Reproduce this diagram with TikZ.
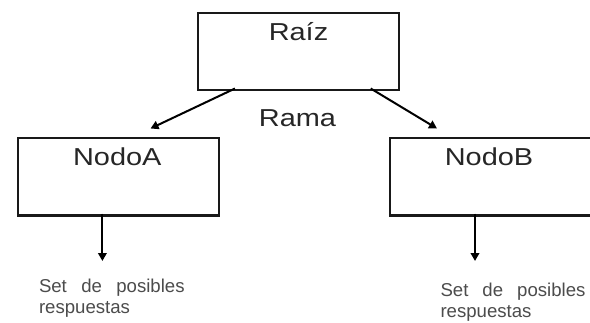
\documentclass[tikz,border=0pt]{standalone}
\usepackage{fontspec}
\setmainfont{Liberation Sans}
\newfontfamily\widefont[FakeStretch=1.18]{Liberation Sans}
\usetikzlibrary{arrows.meta}
\begin{document}
\begin{tikzpicture}[x=1pt,y=-1pt,
  box/.style={draw=black!90,line width=2.4pt,minimum width=201pt,minimum height=77.5pt,inner sep=0pt,anchor=north west},
  title/.style={anchor=base,inner sep=0pt,text=black!85,font=\widefont\fontsize{24.5}{28}\selectfont},
  note/.style={anchor=base west,inner sep=0pt,text=black!70,align=left,font=\fontsize{18.6}{21}\selectfont},
  link/.style={draw=black,line width=2pt,-{Triangle[length=8pt,width=8.5pt]}}]
\useasboundingbox (0,0) rectangle (590,322);
\fill[white] (0,0) rectangle (590,322);

% tree boxes
\node[box] (root) at (196.7,11.5) {};
\node[box] (nodoA) at (16.5,136.8) {};
\node[box] (nodoB) at (388.5,136.8) {};

% box titles
\node[title] (rootT) at (298.5,40.7) {Raíz};
\node[title] (nodoAT) at (117.3,165.7) {NodoA};
\node[title] (nodoBT) at (489,165.7) {NodoB};
\node[title] (rama) at (297.5,126) {Rama};

% branch end points
\coordinate (rl) at (235,88.5);
\coordinate (tl) at (150.5,128.5);
\coordinate (rr) at (370.7,88.5);
\coordinate (tr) at (437,128.5);
\coordinate (al) at (102.4,213.5);
\coordinate (bl) at (102.4,261);
\coordinate (ar) at (475,213.5);
\coordinate (br) at (475,261);

\draw[link] (rl) -- (tl);
\draw[link] (rr) -- (tr);
\draw[link] (al) -- (bl);
\draw[link] (ar) -- (br);

% answer sets (anchored on the baseline of the last line)
\node[note] (setA) at (38.8,313.5) {\makebox[145.6pt][s]{Set de posibles}\\respuestas};
\node[note] (setB) at (440.3,317) {\makebox[145pt][s]{Set de posibles}\\respuestas};
\end{tikzpicture}
\end{document}
